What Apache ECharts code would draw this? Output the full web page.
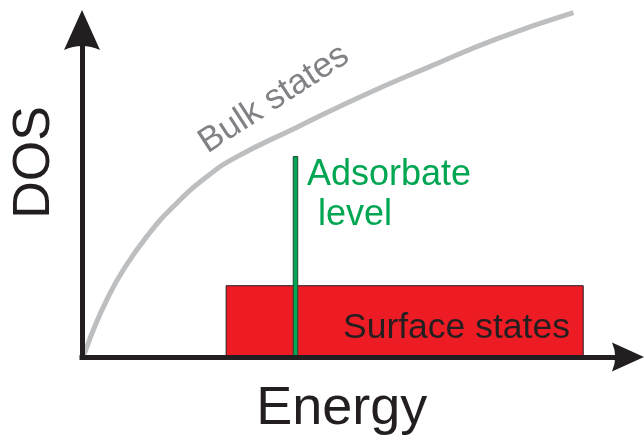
<!DOCTYPE html>
<html>
<head>
<meta charset="utf-8">
<script src="https://cdn.jsdelivr.net/npm/echarts@6/dist/echarts.min.js"></script>
<style>
  html, body { margin: 0; padding: 0; background: #ffffff; }
  #chart { width: 644px; height: 441px; }
</style>
</head>
<body>
<div id="chart"></div>
<script>
// Schematic density of states versus energy (arbitrary units, 0-100 on both axes)

// Bulk states: DOS rising steeply from the band edge
const bulkEnergy = [0.2, 0.55, 2.07, 4.52, 7.56, 11.85, 16.72, 22.83, 28.33, 39.3, 51.5, 63.7, 75.95, 90.0];
const bulkDos    = [0.6, 1.62, 8.26, 17.4, 26.6, 36.8, 46.0, 55.1, 61.2, 70.2, 80.0, 88.8, 97.3, 105.3];

// Surface states: flat band [energy from, energy to, DOS]
const surfaceBand = [26.4, 91.8, 21.8];

// Adsorbate level: sharp level [energy, DOS]
const adsorbateLevel = [39.1, 61.3];

// Annotation texts
const xAxisTitle = 'Energy';
const yAxisTitle = 'DOS';
const bulkLabel = 'Bulk states';
const adsorbateLabel = ['Adsorbate', 'level'];
const surfaceLabel = 'Surface states';

const FONT = '"Liberation Sans", Arial, Helvetica, sans-serif';
const INK = '#231f20';

const chart = echarts.init(document.getElementById('chart'), null, { renderer: 'canvas' });

const arrowPath = 'path://M18,0 L36,40 Q18,32 0,40 Z';

const hiddenBits = {
  axisTick: { show: false },
  axisLabel: { show: false },
  splitLine: { show: false }
};

chart.setOption({
  animation: false,
  backgroundColor: '#ffffff',
  grid: { left: 82, right: 16, top: 30, bottom: 84, containLabel: false },
  xAxis: Object.assign({
    type: 'value', min: 0, max: 100, z: 10,
    axisLine: {
      show: true, onZero: true,
      symbol: ['none', arrowPath], symbolSize: [35, 32],
      lineStyle: { color: INK, width: 5, cap: 'square' }
    }
  }, hiddenBits),
  yAxis: Object.assign({
    type: 'value', min: 0, max: 100, z: 10,
    axisLine: {
      show: true, onZero: true,
      symbol: ['none', arrowPath], symbolSize: [36, 40],
      lineStyle: { color: INK, width: 5, cap: 'square' }
    }
  }, hiddenBits),
  series: [
    {
      name: 'Bulk states',
      type: 'line',
      data: bulkEnergy.map((e, i) => [e, bulkDos[i]]),
      smooth: 0.5,
      showSymbol: false,
      clip: false,
      z: 2,
      lineStyle: { color: '#bcbec0', width: 5 }
    },
    {
      name: 'Surface states',
      type: 'custom',
      clip: false,
      z: 3,
      data: [surfaceBand],
      renderItem: function (params, api) {
        const p0 = api.coord([api.value(0), api.value(2)]);
        const p1 = api.coord([api.value(1), 0]);
        return {
          type: 'rect',
          shape: { x: p0[0], y: p0[1], width: p1[0] - p0[0], height: p1[1] - p0[1] },
          style: { fill: '#ed1c24', stroke: INK, lineWidth: 1 }
        };
      }
    },
    {
      name: 'Adsorbate level',
      type: 'custom',
      clip: false,
      z: 4,
      data: [adsorbateLevel],
      renderItem: function (params, api) {
        const top = api.coord([api.value(0), api.value(1)]);
        const base = api.coord([api.value(0), 0]);
        const w = 4.5;
        return {
          type: 'rect',
          shape: { x: top[0] - w / 2, y: top[1], width: w, height: base[1] - top[1] },
          style: { fill: '#00a651', stroke: '#1f4d33', lineWidth: 1 }
        };
      }
    }
  ],
  graphic: [
    {
      type: 'text', x: 341.7, y: 409, z: 20,
      style: { text: xAxisTitle, font: '54px ' + FONT, fill: INK, align: 'center', verticalAlign: 'middle' }
    },
    {
      type: 'text', x: 35, y: 162.5, rotation: Math.PI / 2, z: 20,
      style: { text: yAxisTitle, font: '52px ' + FONT, fill: INK, align: 'center', verticalAlign: 'middle' }
    },
    {
      type: 'text', x: 274, y: 99, rotation: 33 * Math.PI / 180, z: 20,
      style: { text: bulkLabel, font: '35px ' + FONT, fill: '#808285', align: 'center', verticalAlign: 'middle' }
    },
    {
      type: 'text', x: 307, y: 175, z: 20,
      style: { text: adsorbateLabel[0], font: '36px ' + FONT, fill: '#00a651', align: 'left', verticalAlign: 'middle' }
    },
    {
      type: 'text', x: 318, y: 215, z: 20,
      style: { text: adsorbateLabel[1], font: '36px ' + FONT, fill: '#00a651', align: 'left', verticalAlign: 'middle' }
    },
    {
      type: 'text', x: 343, y: 328.7, z: 20,
      style: { text: surfaceLabel, font: '35.5px ' + FONT, fill: INK, align: 'left', verticalAlign: 'middle' }
    }
  ]
});
</script>
</body>
</html>
